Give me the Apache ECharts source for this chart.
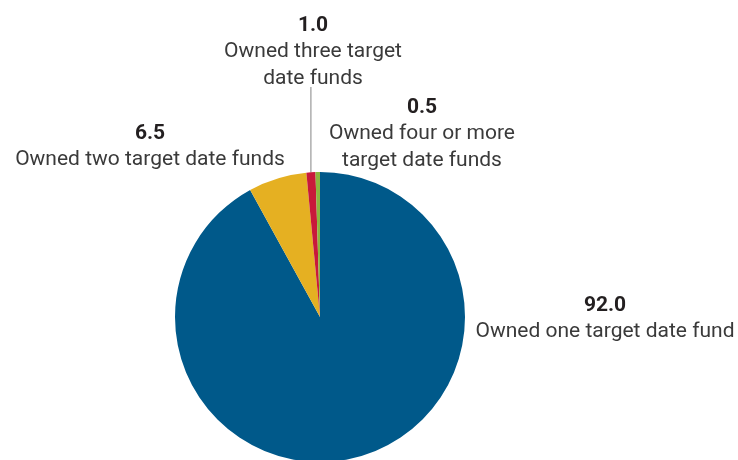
<!DOCTYPE html>
<html>
<head>
<meta charset="utf-8">
<script src="https://cdn.jsdelivr.net/npm/echarts@6/dist/echarts.min.js"></script>
<style>html,body{margin:0;padding:0;background:#fff}#c{width:738px;height:460px}</style>
</head>
<body>
<div id="c"></div>
<script>
const categories = [
  "Owned one target date fund",
  "Owned two target date funds",
  "Owned three target\ndate funds",
  "Owned four or more\ntarget date funds"
];
const values = [92.0, 6.5, 1.0, 0.5];
const colors = ["#00598a", "#e5b022", "#c8193a", "#8cb63f"];

// label placement (center x, top y) per slice
const labelPos = [[605, 292], [150, 120], [313, 12], [422, 94]];

const chart = echarts.init(document.getElementById('c'));
chart.setOption({
  animation: false,
  series: [{
    type: 'pie',
    center: [320, 317],
    radius: [0, 145],
    startAngle: 90,
    clockwise: true,
    avoidLabelOverlap: false,
    itemStyle: { borderWidth: 0 },
    data: values.map((v, i) => ({
      value: v,
      name: categories[i],
      itemStyle: { color: colors[i] },
      labelLine: { show: i === 2, lineStyle: { color: '#999', width: 1.2 } }
    })),
    label: {
      show: true,
      position: 'outside',
      formatter: p => '{v|' + p.value.toFixed(1) + '}\n{n|' + p.name.split('\n').join('}\n{n|') + '}',
      rich: {
        v: { fontFamily: 'Roboto', fontWeight: 'bold', fontSize: 21, lineHeight: 26.5, color: '#231f20', align: 'center' },
        n: { fontFamily: 'Roboto', fontSize: 21, lineHeight: 26.5, color: '#3a3a3a', align: 'center' }
      }
    },
    labelLine: { show: false, length: 10, length2: 0 },
    labelLayout: function (params) {
      const i = params.dataIndex;
      const out = { x: labelPos[i][0], y: labelPos[i][1], align: 'center', verticalAlign: 'top', hideOverlap: false, moveOverlap: null };
      if (i === 2 && params.labelLinePoints) {
        const s = params.labelLinePoints[0];
        const bottom = labelPos[i][1] + params.labelRect.height + 1;
        out.labelLinePoints = [[s[0], s[1]], [s[0], bottom], [s[0], bottom]];
      }
      return out;
    }
  }]
});
</script>
</body>
</html>
